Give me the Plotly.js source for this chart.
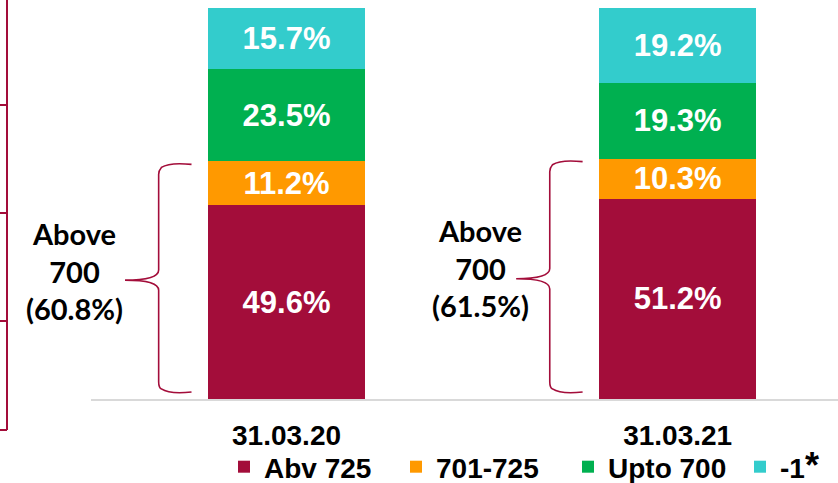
<!DOCTYPE html>
<html>
<head>
<meta charset="utf-8">
<script src="https://cdn.plot.ly/plotly-3.0.1.min.js"></script>
<style>html,body{margin:0;padding:0;background:#fff;}#chart{width:838px;height:483px;}</style>
</head>
<body>
<div id="chart"></div>
<script>
// ---- data ----
var categories = ['31.03.20', '31.03.21'];
var seriesNames = ['Abv 725', '701-725', 'Upto 700', '-1<span style="font-size:36px">*</span>'];
var abv725 = [49.6, 51.2];
var r701to725 = [11.2, 10.3];
var upto700 = [23.5, 19.3];
var minus1 = [15.7, 19.2];
var colors = ['#A30D3A', '#FF9900', '#00B050', '#33CCCC'];

var xpos = categories.map(function (c, i) { return i; });
var series = [abv725, r701to725, upto700, minus1];

var traces = series.map(function (vals, k) {
  return {
    type: 'bar',
    name: seriesNames[k],
    x: xpos,
    y: vals,
    width: 0.4,
    marker: { color: colors[k], line: { width: 0 } },
    text: vals.map(function (v) { return v.toFixed(1) + '%'; }),
    textposition: 'inside',
    insidetextanchor: 'middle',
    textangle: 0,
    constraintext: 'none',
    textfont: { family: 'Liberation Sans, Arial, sans-serif', size: 31, color: '#ffffff', weight: 'bold' },
    hoverinfo: 'name+y'
  };
});

// ---- layout geometry ----
var W = 838, H = 483;
var mL = 91, mR = 0, mT = 8, mB = 84;
var pw = W - mL - mR, ph = H - mT - mB;
var xr = [-0.5, 1.41];
function pxX(px) { return (px - mL) / pw; }
function pxY(py) { return (H - mB - py) / ph; }
function dataXtoPaper(x) { return (x - xr[0]) / (xr[1] - xr[0]); }

var maroon = '#A30D3A';
var shapes = [];

// decorative axis fragment at the far left
shapes.push({ type: 'line', xref: 'paper', yref: 'paper', x0: pxX(7), x1: pxX(7), y0: pxY(-2), y1: pxY(430), line: { color: maroon, width: 2 } });
[105, 213, 321, 430].forEach(function (py) {
  shapes.push({ type: 'line', xref: 'paper', yref: 'paper', x0: pxX(-1), x1: pxX(7), y0: pxY(py), y1: pxY(py), line: { color: maroon, width: 2 } });
});

// brackets built from the "above 700" totals
var annotations = [];
var aboveTotals = abv725.map(function (v, i) { return v + r701to725[i]; });
aboveTotals.forEach(function (tot, i) {
  var xe = i - 0.243, xs = i - 0.327, xt = i - 0.413;
  var top = tot - 0.8, bot = 1.8, mid = tot / 2;
  var rx = 0.028, ry = 2.6;
  var p = 'M' + xe + ',' + top +
    ' Q' + (xs + rx) + ',' + (top + 0.6) + ' ' + (xs + rx * 0.25) + ',' + (top - ry * 0.3) +
    ' Q' + xs + ',' + (top - ry * 0.6) + ' ' + xs + ',' + (top - ry) +
    ' L' + xs + ',' + (mid + ry) +
    ' Q' + xs + ',' + mid + ' ' + xt + ',' + mid +
    ' Q' + xs + ',' + mid + ' ' + xs + ',' + (mid - ry) +
    ' L' + xs + ',' + (bot + ry) +
    ' Q' + xs + ',' + (bot + ry * 0.4) + ' ' + (xs + rx * 0.25) + ',' + (bot + ry * 0.3) +
    ' Q' + (xs + rx) + ',' + (bot - 0.6) + ' ' + xe + ',' + bot;
  shapes.push({ type: 'path', xref: 'x', yref: 'y', path: p, line: { color: maroon, width: 1.6 } });
  annotations.push({
    xref: 'paper', yref: 'y',
    x: dataXtoPaper(i - (i === 0 ? 0.541 : 0.505)),
    y: mid + (i === 0 ? 2.4 : 2.8),
    xanchor: 'center', yanchor: 'middle',
    text: 'Above<br>700<br>(' + tot.toFixed(1) + '%)',
    showarrow: false,
    align: 'center',
    font: { family: 'Lato, Open Sans, sans-serif', size: 29, color: '#000000', weight: 'bold' }
  });
});

var layout = {
  width: W, height: H,
  margin: { l: mL, r: mR, t: mT, b: mB, autoexpand: false },
  paper_bgcolor: '#ffffff',
  plot_bgcolor: '#ffffff',
  barmode: 'stack',
  showlegend: true,
  legend: {
    orientation: 'h',
    xref: 'container', yref: 'container',
    x: 224 / W, xanchor: 'left',
    y: (H - 467) / H, yanchor: 'middle',
    traceorder: 'normal',
    entrywidth: 127, entrywidthmode: 'pixels',
    font: { family: 'Liberation Sans, Arial, sans-serif', size: 28, color: '#000000', weight: 'bold' },
    bgcolor: 'rgba(0,0,0,0)'
  },
  xaxis: {
    type: 'linear',
    range: xr,
    tickvals: xpos,
    ticktext: categories,
    showgrid: false, zeroline: false,
    showline: true, linecolor: '#D9D9D9', linewidth: 1.5,
    ticks: 'outside', ticklen: 11, tickcolor: 'rgba(0,0,0,0)',
    tickfont: { family: 'Liberation Sans, Arial, sans-serif', size: 28, color: '#000000', weight: 'bold' },
    automargin: false,
    fixedrange: true
  },
  yaxis: {
    range: [0, 100],
    visible: false,
    showgrid: false, zeroline: false,
    fixedrange: true
  },
  shapes: shapes,
  annotations: annotations
};

Plotly.newPlot('chart', traces, layout, { displayModeBar: false, staticPlot: true });
</script>
</body>
</html>
